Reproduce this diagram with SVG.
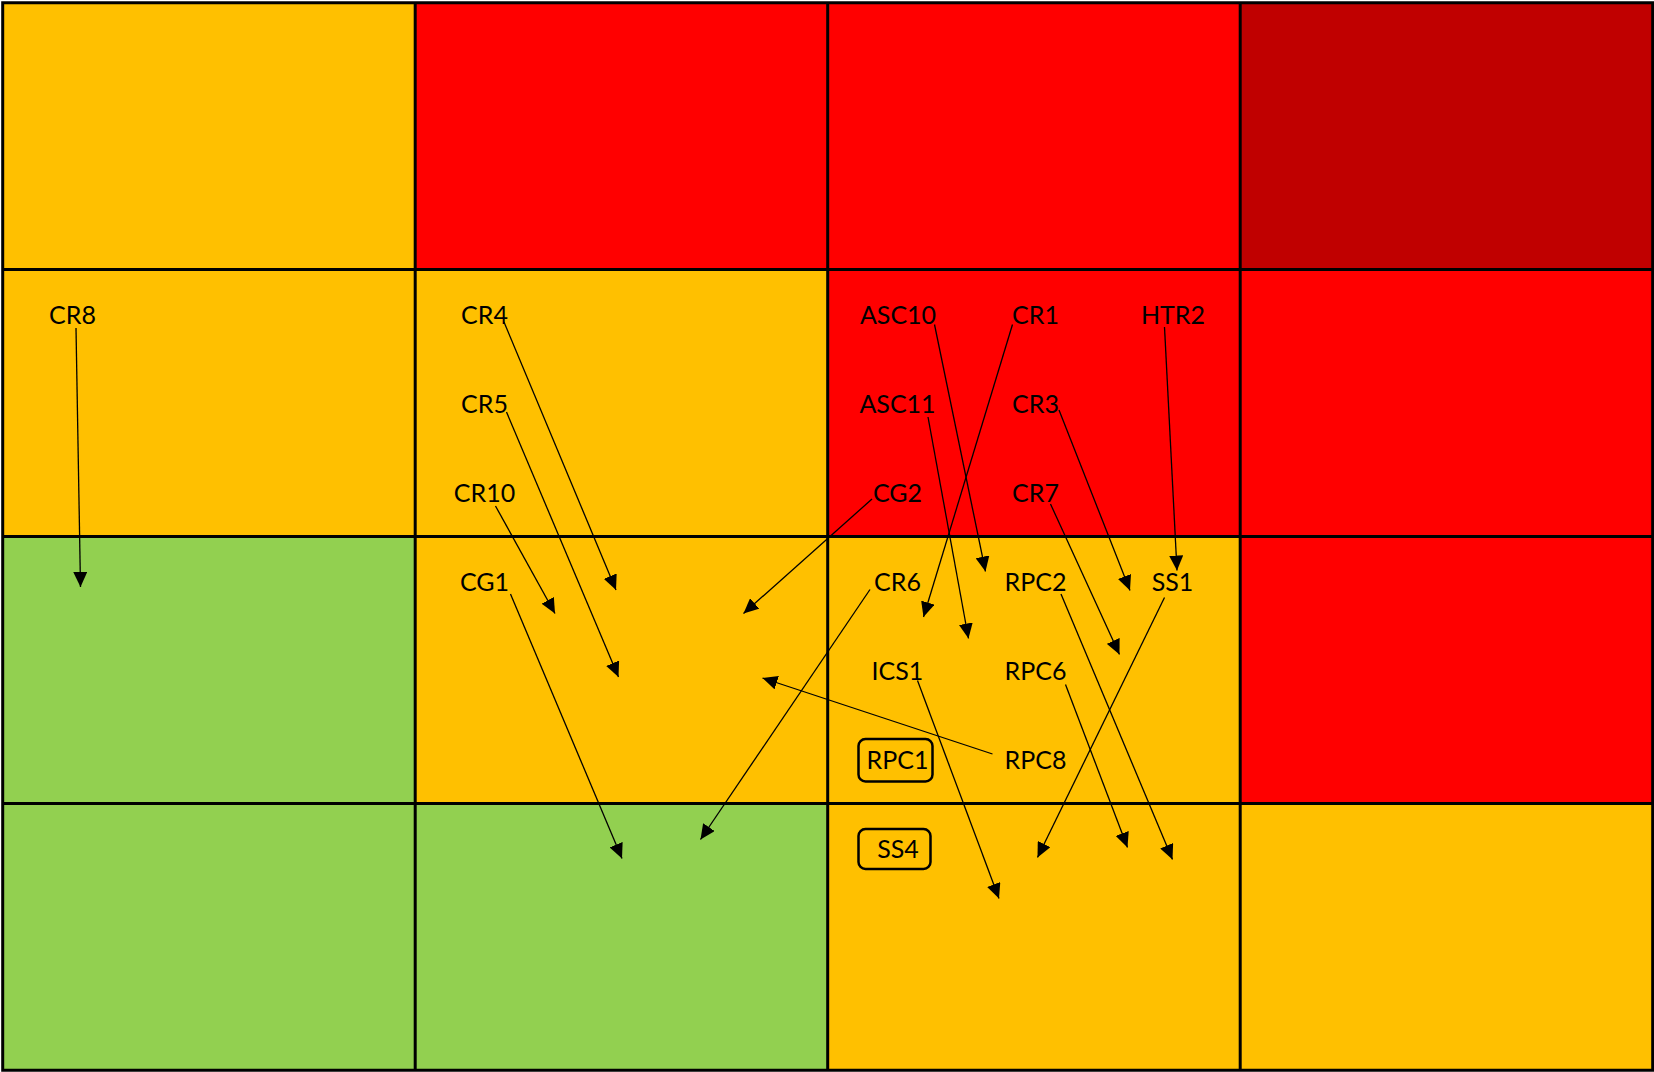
<svg xmlns="http://www.w3.org/2000/svg" width="1654" height="1072" viewBox="0 0 1654 1072">
<style>
.o{fill:#FFC000}.r{fill:#FF0000}.d{fill:#C00000}.g{fill:#92D050}
.grid{stroke:#000;stroke-width:3;fill:none}
.lbl{font-family:Lato,"Open Sans","Liberation Sans",sans-serif;font-size:25px;fill:#000;text-anchor:middle}
.box{fill:none;stroke:#000;stroke-width:2.5}
.cn{stroke:#000;stroke-width:1.3;fill:none;marker-end:url(#ah)}
</style>
<defs>
<marker id="ah" viewBox="0 0 15 14" refX="15" refY="7" markerWidth="15" markerHeight="14" markerUnits="userSpaceOnUse" orient="auto">
<path d="M0,0 L15,7 L0,14 Z" fill="#000"/>
</marker>
</defs>
<g id="cells">
<rect class="o" x="2.7" y="2.7" width="412.5" height="266.9"/>
<rect class="r" x="415.2" y="2.7" width="412.5" height="266.9"/>
<rect class="r" x="827.7" y="2.7" width="412.5" height="266.9"/>
<rect class="d" x="1240.2" y="2.7" width="412.5" height="266.9"/>
<rect class="o" x="2.7" y="269.6" width="412.5" height="266.9"/>
<rect class="o" x="415.2" y="269.6" width="412.5" height="266.9"/>
<rect class="r" x="827.7" y="269.6" width="412.5" height="266.9"/>
<rect class="r" x="1240.2" y="269.6" width="412.5" height="266.9"/>
<rect class="g" x="2.7" y="536.5" width="412.5" height="266.9"/>
<rect class="o" x="415.2" y="536.5" width="412.5" height="266.9"/>
<rect class="o" x="827.7" y="536.5" width="412.5" height="266.9"/>
<rect class="r" x="1240.2" y="536.5" width="412.5" height="266.9"/>
<rect class="g" x="2.7" y="803.4" width="412.5" height="266.9"/>
<rect class="g" x="415.2" y="803.4" width="412.5" height="266.9"/>
<rect class="o" x="827.7" y="803.4" width="412.5" height="266.9"/>
<rect class="o" x="1240.2" y="803.4" width="412.5" height="266.9"/>
<path class="grid" d="M2.7,2.7 H1652.7 V1070.3 H2.7 Z M415.2,2.7 V1070.3 M827.7,2.7 V1070.3 M1240.2,2.7 V1070.3 M2.7,269.6 H1652.7 M2.7,536.5 H1652.7 M2.7,803.4 H1652.7"/>
</g>
<g id="connectors">
<line class="cn" x1="76" y1="328" x2="80.5" y2="587"/>
<line class="cn" x1="504" y1="322" x2="616" y2="590"/>
<line class="cn" x1="506.5" y1="412" x2="618.5" y2="677"/>
<line class="cn" x1="495.5" y1="506" x2="555" y2="613.5"/>
<line class="cn" x1="510.5" y1="594" x2="622" y2="858.5"/>
<line class="cn" x1="872" y1="499" x2="743.5" y2="613.5"/>
<line class="cn" x1="992.5" y1="754" x2="762.5" y2="678"/>
<line class="cn" x1="870" y1="589.5" x2="700.5" y2="839.5"/>
<line class="cn" x1="934.5" y1="324.5" x2="985.5" y2="571.5"/>
<line class="cn" x1="1012.5" y1="324.5" x2="923.5" y2="617"/>
<line class="cn" x1="1164.5" y1="327" x2="1177" y2="570.5"/>
<line class="cn" x1="928" y1="417" x2="968.5" y2="638.5"/>
<line class="cn" x1="1059" y1="410" x2="1130" y2="590.5"/>
<line class="cn" x1="1050.5" y1="504" x2="1119.5" y2="654.5"/>
<line class="cn" x1="1061" y1="594" x2="1172.5" y2="859.5"/>
<line class="cn" x1="1065.5" y1="684.5" x2="1127.5" y2="847.5"/>
<line class="cn" x1="1164.5" y1="597.5" x2="1037.5" y2="857.5"/>
<line class="cn" x1="917.5" y1="680.5" x2="999" y2="898.5"/>
</g>
<g id="CR8"><text class="lbl" x="72.5" y="324">CR8</text></g>
<g id="CR4"><text class="lbl" x="484.5" y="324">CR4</text></g>
<g id="CR5"><text class="lbl" x="484.5" y="413">CR5</text></g>
<g id="CR10"><text class="lbl" x="484.5" y="502">CR10</text></g>
<g id="CG1"><text class="lbl" x="484.5" y="591">CG1</text></g>
<g id="ASC10"><text class="lbl" x="898" y="324">ASC10</text></g>
<g id="CR1"><text class="lbl" x="1035.5" y="324">CR1</text></g>
<g id="HTR2"><text class="lbl" x="1173" y="324">HTR2</text></g>
<g id="ASC11"><text class="lbl" x="897.5" y="413">ASC11</text></g>
<g id="CR3"><text class="lbl" x="1035.5" y="413">CR3</text></g>
<g id="CG2"><text class="lbl" x="897.5" y="502">CG2</text></g>
<g id="CR7"><text class="lbl" x="1035.5" y="502">CR7</text></g>
<g id="CR6"><text class="lbl" x="897.5" y="591">CR6</text></g>
<g id="RPC2"><text class="lbl" x="1035.5" y="591">RPC2</text></g>
<g id="SS1"><text class="lbl" x="1172.5" y="591">SS1</text></g>
<g id="ICS1"><text class="lbl" x="897.5" y="680">ICS1</text></g>
<g id="RPC6"><text class="lbl" x="1035.5" y="680">RPC6</text></g>
<g id="RPC1"><rect class="box" x="858.5" y="739" width="74" height="42.5" rx="7"/><text class="lbl" x="897.5" y="769">RPC1</text></g>
<g id="RPC8"><text class="lbl" x="1035.5" y="769">RPC8</text></g>
<g id="SS4"><rect class="box" x="858.5" y="829" width="72" height="40" rx="7"/><text class="lbl" x="898" y="858">SS4</text></g>
</svg>
